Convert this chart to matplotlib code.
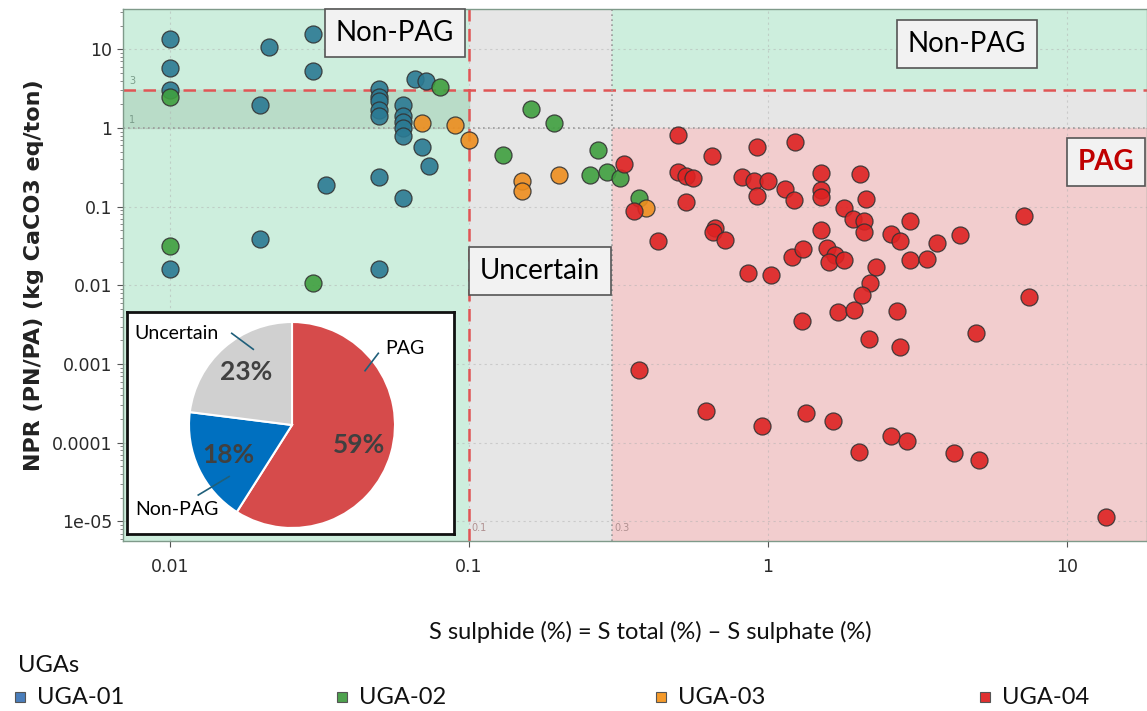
import matplotlib
matplotlib.use("Agg")
import matplotlib.pyplot as plt
from matplotlib.patches import Rectangle

# S sulphide (%) and NPR values per underground area
uga01_s = [0.01, 0.01, 0.01, 0.01, 0.0215, 0.03, 0.03, 0.02, 0.02,
           0.05, 0.05, 0.05, 0.05, 0.05, 0.05, 0.05,
           0.06, 0.06, 0.06, 0.06, 0.06, 0.06,
           0.066, 0.072, 0.0695, 0.0735, 0.0333]
uga01_npr = [13.4, 5.7, 3.0, 0.016, 10.8, 15.6, 5.25, 1.94, 0.039,
             3.1, 2.5, 2.2, 1.7, 1.4, 0.24, 0.016,
             1.95, 1.4, 1.2, 1.0, 0.8, 0.13,
             4.2, 3.95, 0.58, 0.33, 0.187]

uga02_s = [0.01, 0.01, 0.03, 0.08, 0.161, 0.192, 0.13, 0.271, 0.254, 0.29, 0.32, 0.371]
uga02_npr = [2.5, 0.032, 0.0106, 3.3, 1.76, 1.15, 0.46, 0.525, 0.255, 0.274, 0.232, 0.13]

uga03_s = [0.0696, 0.09, 0.1, 0.15, 0.15, 0.2, 0.39]
uga03_npr = [1.17, 1.09, 0.70, 0.21, 0.16, 0.255, 0.097]

uga04_s = [0.33, 0.50, 0.65, 0.92, 1.23, 0.50, 0.53, 0.56, 0.53, 0.357,
           0.43, 0.82, 0.90, 1.0, 0.92, 1.14, 1.22, 0.665, 0.657, 0.72,
           0.86, 1.02, 1.2, 1.31, 1.5, 1.5, 1.5, 1.5, 1.58, 1.67,
           1.6, 1.8, 2.03, 2.13, 1.79, 1.92, 2.1, 2.1, 2.29, 2.2,
           2.06, 1.71, 1.94, 2.99, 2.58, 2.77, 3.67, 4.4, 2.99, 3.41,
           7.2, 7.45, 2.69, 4.97, 2.17, 2.76, 1.30, 0.371, 0.621, 0.953,
           1.34, 1.65, 2.01, 2.58, 2.91, 4.19, 5.07, 13.5]
uga04_npr = [0.35, 0.81, 0.445, 0.574, 0.664, 0.274, 0.248, 0.23, 0.114, 0.088,
             0.037, 0.239, 0.21, 0.21, 0.137, 0.169, 0.12, 0.053, 0.047, 0.038,
             0.0144, 0.0137, 0.023, 0.029, 0.266, 0.163, 0.131, 0.051, 0.030, 0.024,
             0.020, 0.021, 0.263, 0.124, 0.096, 0.070, 0.066, 0.048, 0.017, 0.0106,
             0.0075, 0.0046, 0.0048, 0.065, 0.0446, 0.0367, 0.0346, 0.044, 0.021, 0.0217,
             0.0755, 0.0071, 0.0047, 0.0025, 0.0021, 0.00166, 0.0035, 0.00084, 0.00025, 0.000162,
             0.000237, 0.000189, 7.6e-5, 0.000123, 0.000105, 7.4e-5, 6.1e-5, 1.14e-5]

uga_names = ["UGA-01", "UGA-02", "UGA-03", "UGA-04"]
uga_colors = ["#2b7a93", "#3f9f3f", "#ee8e1e", "#dd2222"]
legend_colors = ["#4a7ebb", "#4ea24e", "#f59a2a", "#e03030"]

# pie of classification shares
pie_labels = ["PAG", "Non-PAG", "Uncertain"]
pie_values = [59, 18, 23]
pie_colors = ["#d64b4b", "#0070c0", "#d0d0d0"]

W, H = 1147, 711
fig = plt.figure(figsize=(W / 100, H / 100), dpi=100)


def fx(px):
    return px / W


def fy(py):
    return 1 - py / H


ax = fig.add_axes([fx(123), fy(541), fx(1147) - fx(123), fy(9) - fy(541)])
ax.set_xscale("log")
ax.set_yscale("log")
xmin, xmax = 0.00697, 18.5
ymin, ymax = 5.65e-6, 32.5
ax.set_xlim(xmin, xmax)
ax.set_ylim(ymin, ymax)

green = "#cdeedd"
grey = "#e6e6e6"
pink = "#f2cdce"
# classification zones
ax.add_patch(Rectangle((xmin, ymin), 0.1 - xmin, ymax - ymin, color=green, zorder=0))
ax.add_patch(Rectangle((xmin, 1), 0.1 - xmin, 2, color="#b9dcc8", zorder=0.5))
ax.add_patch(Rectangle((0.1, ymin), 0.2, ymax - ymin, color=grey, zorder=0))
ax.add_patch(Rectangle((0.3, 3), xmax - 0.3, ymax - 3, color=green, zorder=0))
ax.add_patch(Rectangle((0.3, 1), xmax - 0.3, 2, color=grey, zorder=0))
ax.add_patch(Rectangle((0.3, ymin), xmax - 0.3, 1 - ymin, color=pink, zorder=0))

ax.grid(True, which="major", color="#b0b0b0", linestyle=(0, (2, 3)), linewidth=0.8, alpha=0.5)
ax.set_axisbelow(True)

ax.axhline(3, color="#e05555", linestyle=(0, (5, 3)), linewidth=1.8, zorder=1)
ax.axvline(0.1, color="#e05555", linestyle=(0, (5, 3)), linewidth=1.8, zorder=1)
ax.axhline(1, color="#999999", linestyle=(0, (1, 2)), linewidth=1.2, zorder=1)
ax.axvline(0.3, color="#999999", linestyle=(0, (1, 2)), linewidth=1.2, zorder=1)

ax.text(0.0073, 3.6, "3", fontsize=7, color="#7a9c8a", zorder=1)
ax.text(0.0073, 1.15, "1", fontsize=7, color="#7a9c8a", zorder=1)
ax.text(0.102, 7.5e-6, "0.1", fontsize=7, color="#b09090", zorder=1)
ax.text(0.306, 7.5e-6, "0.3", fontsize=7, color="#b09090", zorder=1)

series = [(uga01_s, uga01_npr), (uga02_s, uga02_npr), (uga03_s, uga03_npr), (uga04_s, uga04_npr)]
for (xs, ys), c in zip(series, uga_colors):
    ax.scatter(xs, ys, s=150, color=c, edgecolor="#333333", linewidth=0.9, alpha=0.9, zorder=3)

ax.set_xticks([0.01, 0.1, 1, 10])
ax.set_xticklabels(["0.01", "0.1", "1", "10"])
ax.set_yticks([1e-5, 1e-4, 1e-3, 0.01, 0.1, 1, 10])
ax.set_yticklabels(["1e-05", "0.0001", "0.001", "0.01", "0.1", "1", "10"])
ax.tick_params(axis="both", which="major", labelsize=12.5, colors="#555555", labelcolor="#2a2a2a", length=4)
ax.tick_params(axis="x", which="minor", bottom=False)
ax.tick_params(axis="y", which="minor", length=2, colors="#777777")
ax.tick_params(axis="x", pad=8)
for sp in ax.spines.values():
    sp.set_color("#7f9a8a")
    sp.set_linewidth(1.0)

ax.set_ylabel("NPR (PN/PA) (kg CaCO3 eq/ton)", fontsize=16, fontweight="bold", color="#222222", labelpad=6)

box = dict(boxstyle="square,pad=0.4", facecolor="#f2f2f2", edgecolor="#555555", linewidth=1.2)
font_box = ["Lato", "DejaVu Sans"]
fig.text(fx(395), fy(33), "Non-PAG", fontsize=20, family=font_box, ha="center", va="center", bbox=box, zorder=5)
fig.text(fx(967), fy(44), "Non-PAG", fontsize=20, family=font_box, ha="center", va="center", bbox=box, zorder=5)
fig.text(fx(540), fy(271), "Uncertain", fontsize=20, family=font_box, ha="center", va="center", bbox=box, zorder=5)
fig.text(fx(1106), fy(162), "PAG", fontsize=20, family=font_box, fontweight="bold", color="#c00000",
         ha="center", va="center", bbox=box, zorder=5)

# inset pie with white frame
box_ax = fig.add_axes([fx(127), fy(534), fx(454) - fx(127), fy(312) - fy(534)])
box_ax.set_xticks([])
box_ax.set_yticks([])
box_ax.set_facecolor("white")
for sp in box_ax.spines.values():
    sp.set_linewidth(2)
    sp.set_color("#111111")

pie_ax = fig.add_axes([fx(189), fy(528), fx(395) - fx(189), fy(322) - fy(528)])
wedges, texts, autotexts = pie_ax.pie(
    pie_values, colors=pie_colors, startangle=90, counterclock=False,
    autopct=lambda p: f"{p:.0f}%", pctdistance=0.68,
    wedgeprops=dict(edgecolor="white", linewidth=1.5),
    textprops=dict(fontsize=19, fontweight="bold", color="#404040", family=font_box))
pie_ax.set_xlim(-1, 1)
pie_ax.set_ylim(-1, 1)
pie_ax.set_aspect("equal")

lead = "#1f5f7a"
pie_ax.text(-1.12, 0.89, "Uncertain", fontsize=14, family=font_box, ha="center", va="center", clip_on=False)
pie_ax.plot([-0.585, -0.376], [0.89, 0.735], color=lead, lw=1.2, clip_on=False)
pie_ax.text(1.10, 0.74, "PAG", fontsize=14, family=font_box, ha="center", va="center", clip_on=False)
pie_ax.plot([0.838, 0.709], [0.696, 0.527], color=lead, lw=1.2, clip_on=False)
pie_ax.text(-1.12, -0.825, "Non-PAG", fontsize=14, family=font_box, ha="center", va="center", clip_on=False)
pie_ax.plot([-0.91, -0.61], [-0.68, -0.50], color=lead, lw=1.2, clip_on=False)

# axis title and legend below the plot
fig.text(fx(650), fy(632), "S sulphide (%) = S total (%) \u2013 S sulphate (%)", fontsize=17,
         family=font_box, ha="center", va="center", color="#111111")
fig.text(fx(18), fy(665), "UGAs", fontsize=17, family=font_box, ha="left", va="center", color="#111111")
legend_x = [20, 342, 661, 985]
for lx, name, c in zip(legend_x, uga_names, legend_colors):
    fig.patches.append(Rectangle((fx(lx - 5), fy(702)), fx(10), fy(692) - fy(702), transform=fig.transFigure,
                                 facecolor=c, edgecolor="#555555", linewidth=0.8))
    fig.text(fx(lx + 17), fy(697), name, fontsize=17, family=font_box, ha="left", va="center", color="#111111")

fig.savefig("out.png", dpi=100)
